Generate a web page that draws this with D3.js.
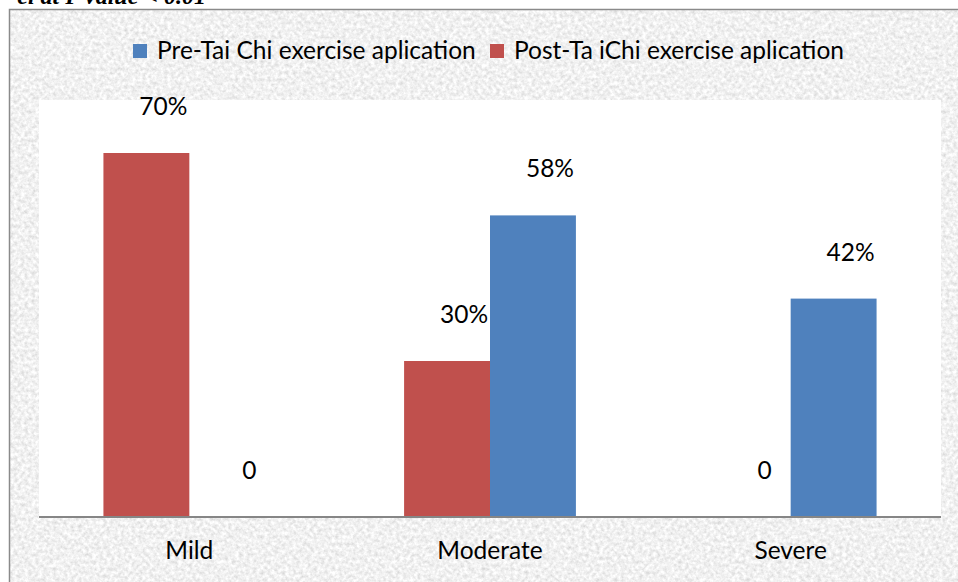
<!DOCTYPE html>
<html>
<head>
<meta charset="utf-8">
<script src="https://cdn.jsdelivr.net/npm/d3@7"></script>
<style>
    body { margin: 0; background: #fff; }
    svg { display: block; }
    .lbl { font-family: Lato, "Open Sans", sans-serif; fill: #000; }
</style>
</head>
<body>
<svg id="chart" width="958" height="582"></svg>
<script>
// chart data
const categories = ["Mild", "Moderate", "Severe"];
const seriesKeys = ["post", "pre"]; // drawing order inside a group (red first)
const seriesNames = ["Pre-Tai Chi exercise aplication", "Post-Ta iChi exercise aplication"];
const preValues = [0, 58, 42];
const postValues = [70, 30, 0];
const preLabels = ["0", "58%", "42%"];
const postLabels = ["70%", "30%", "0"];

const ctx = {
    W: 958,
    H: 582,
    PLOT_LEFT: 39,
    PLOT_RIGHT: 941,
    PLOT_TOP: 100,
    AXIS_Y: 517,
    FONT_SIZE: 24.5,
    BLUE: "#4F81BD",
    RED: "#C0504D",
};

const svg = d3.select("#chart");

main();

function main() {
    drawBackground();
    drawBars();
    drawLegend();
}

function drawBackground() {
    const defs = svg.append("defs");
    const f = defs.append("filter")
        .attr("id", "granite")
        .attr("x", 0).attr("y", 0)
        .attr("width", "100%").attr("height", "100%");
    f.append("feTurbulence")
        .attr("type", "fractalNoise")
        .attr("baseFrequency", "0.28")
        .attr("numOctaves", 3)
        .attr("seed", 7);
    f.append("feColorMatrix")
        .attr("type", "matrix")
        .attr("values", "0.5 0 0 0 0.63  0.5 0 0 0 0.63  0.5 0 0 0 0.63  0 0 0 0 1");

    svg.append("rect")
        .attr("width", ctx.W).attr("height", ctx.H)
        .attr("fill", "#ddd")
        .attr("filter", "url(#granite)");

    // white page around the frame
    svg.append("rect")
        .attr("width", ctx.W).attr("height", 9)
        .attr("fill", "#fff");
    svg.append("rect")
        .attr("width", 9).attr("height", ctx.H)
        .attr("fill", "#fff");

    // caption from the document above, cut off at the top edge
    svg.append("text")
        .attr("x", 206)
        .attr("y", 4)
        .attr("text-anchor", "end")
        .style("font-family", "'Liberation Serif', serif")
        .style("font-weight", "bold")
        .style("font-style", "italic")
        .style("font-size", "24px")
        .text("el at P value < 0.01");

    // outer frame
    svg.append("path")
        .attr("d", `M9.5,${ctx.H + 5}V9.5H${ctx.W + 5}`)
        .attr("fill", "none")
        .attr("stroke", "#8a8a8a")
        .attr("stroke-width", 1.5);

    // plot area
    svg.append("rect")
        .attr("x", ctx.PLOT_LEFT)
        .attr("y", ctx.PLOT_TOP)
        .attr("width", ctx.PLOT_RIGHT - ctx.PLOT_LEFT)
        .attr("height", ctx.AXIS_Y - ctx.PLOT_TOP)
        .attr("fill", "#fff");
}

function drawBars() {
    const x = d3.scaleBand()
        .domain(categories)
        .range([ctx.PLOT_LEFT, ctx.PLOT_RIGHT]);

    const xInner = d3.scaleBand()
        .domain(seriesKeys)
        .range([0, x.bandwidth()])
        .paddingInner(0)
        .paddingOuter(0.75);

    const y = d3.scaleLinear()
        .domain([0, 80])
        .range([ctx.AXIS_Y, ctx.AXIS_Y - 416]);

    const rows = categories.map((c, i) => ({
        cat: c,
        values: [
            { key: "post", v: postValues[i], label: postLabels[i], color: ctx.RED },
            { key: "pre", v: preValues[i], label: preLabels[i], color: ctx.BLUE },
        ],
    }));

    const g = svg.selectAll(".group")
        .data(rows)
        .enter()
        .append("g")
        .attr("class", "group")
        .attr("transform", d => `translate(${x(d.cat)},0)`);

    g.selectAll("rect")
        .data(d => d.values)
        .enter()
        .append("rect")
        .attr("x", d => xInner(d.key))
        .attr("y", d => y(d.v))
        .attr("width", xInner.bandwidth())
        .attr("height", d => ctx.AXIS_Y - y(d.v))
        .attr("fill", d => d.color);

    g.selectAll(".value")
        .data(d => d.values)
        .enter()
        .append("text")
        .attr("class", "lbl value")
        .attr("x", d => xInner(d.key) + xInner.bandwidth() / 2 + 17)
        .attr("y", d => y(d.v) - 38)
        .attr("text-anchor", "middle")
        .style("font-size", ctx.FONT_SIZE + "px")
        .text(d => d.label);

    // category axis
    svg.append("line")
        .attr("x1", ctx.PLOT_LEFT)
        .attr("x2", ctx.PLOT_RIGHT)
        .attr("y1", ctx.AXIS_Y)
        .attr("y2", ctx.AXIS_Y)
        .attr("stroke", "#868686")
        .attr("stroke-width", 2);

    svg.selectAll(".cat")
        .data(categories)
        .enter()
        .append("text")
        .attr("class", "lbl cat")
        .attr("x", d => x(d) + x.bandwidth() / 2)
        .attr("y", 559)
        .attr("text-anchor", "middle")
        .style("font-size", ctx.FONT_SIZE + "px")
        .text(d => d);
}

function drawLegend() {
    const items = [
        { name: seriesNames[0], color: ctx.BLUE, x: 133 },
        { name: seriesNames[1], color: ctx.RED, x: 490 },
    ];
    const lg = svg.selectAll(".legend")
        .data(items)
        .enter()
        .append("g")
        .attr("class", "legend")
        .attr("transform", d => `translate(${d.x},44)`);

    lg.append("rect")
        .attr("width", 14)
        .attr("height", 14)
        .attr("fill", d => d.color);

    lg.append("text")
        .attr("class", "lbl")
        .attr("x", 24)
        .attr("y", 15)
        .style("font-size", ctx.FONT_SIZE + "px")
        .text(d => d.name);
}
</script>
</body>
</html>
